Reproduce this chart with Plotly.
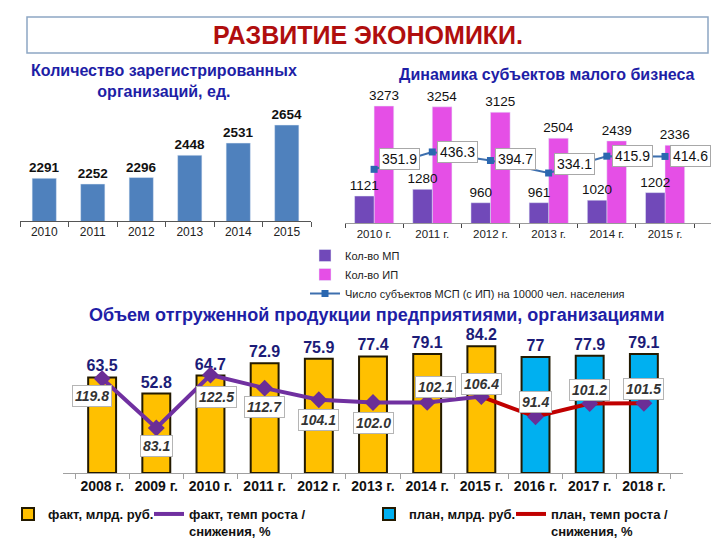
import plotly.graph_objects as go

# ---------------- data ----------------
# Left chart: registered organisations
reg_years = ["2010", "2011", "2012", "2013", "2014", "2015"]
reg_orgs = [2291, 2252, 2296, 2448, 2531, 2654]

# Right chart: small business dynamics
sb_years = ["2010 г.", "2011 г.", "2012 г.", "2013 г.", "2014 г.", "2015 г."]
mp_count = [1121, 1280, 960, 961, 1020, 1202]
ip_count = [3273, 3254, 3125, 2504, 2439, 2336]
msp_per_10000 = [351.9, 436.3, 394.7, 334.1, 415.9, 414.6]

# Bottom chart: shipped products
fact_years = ["2008 г.", "2009 г.", "2010 г.", "2011 г.", "2012 г.", "2013 г.", "2014 г.", "2015 г."]
fact_volume = [63.5, 52.8, 64.7, 72.9, 75.9, 77.4, 79.1, 84.2]
fact_growth = [119.8, 83.1, 122.5, 112.7, 104.1, 102.0, 102.1, 106.4]
plan_years = ["2016 г.", "2017 г.", "2018 г."]
plan_volume = [77, 77.9, 79.1]
plan_growth = [91.4, 101.2, 101.5]

# ---------------- style helpers ----------------
W, H = 720, 540
def fx(px):
    return px / W
def fy(py):
    return 1 - py / H

FONT = "Liberation Sans, Arial, sans-serif"
TITLE_BLUE = "#1E1EA6"

# label offsets (pixels) for boxed labels
msp_label_yshift = [10, 0, 2, 9, 0, 0]
growth_label_shift = [(-10, -17), (0, -18), (6, -22), (0, -19), (0, -20), (0, -20),
                      (8, 15), (0, 13), (0, 15), (0, 14), (0, 14)]

fig = go.Figure()

# Left chart bars
fig.add_trace(go.Bar(
    x=reg_years, y=reg_orgs, xaxis="x", yaxis="y",
    width=0.5, offset=-0.25,
    marker=dict(color="#4F81BD"),
    text=[f"<b>{v}</b>" for v in reg_orgs], textposition="outside",
    textfont=dict(size=13.5, color="#111", family=FONT), constraintext="none",
    cliponaxis=False, showlegend=False, hoverinfo="skip",
))

# Right chart bars (ИП drawn first so МП labels stay visible) + line
fig.add_trace(go.Bar(
    x=sb_years, y=ip_count, xaxis="x2", yaxis="y2", name="Кол-во ИП",
    width=0.338, offset=0,
    marker=dict(color="#E54FE6"),
    text=[str(v) for v in ip_count], textposition="outside",
    textfont=dict(size=13.5, color="#111", family=FONT), constraintext="none",
    cliponaxis=False, legend="legend", legendrank=2,
))
fig.add_trace(go.Bar(
    x=sb_years, y=mp_count, xaxis="x2", yaxis="y2", name="Кол-во МП",
    width=0.335, offset=-0.335,
    marker=dict(color="#7149B9"),
    text=[str(v) for v in mp_count], textposition="outside",
    textfont=dict(size=13.5, color="#111", family=FONT), constraintext="none",
    cliponaxis=False, legend="legend", legendrank=1,
))
fig.add_trace(go.Scatter(
    x=sb_years, y=msp_per_10000, xaxis="x2", yaxis="y3",
    name="Число субъектов МСП (с ИП) на 10000 чел. населения",
    mode="lines+markers",
    line=dict(color="#3D6FAE", width=2),
    marker=dict(symbol="square", size=7, color="#2B67B0"),
    cliponaxis=False, legend="legend", legendrank=3,
))

# Bottom chart
fig.add_trace(go.Bar(
    x=fact_years, y=fact_volume, xaxis="x3", yaxis="y4", name="факт, млрд. руб.",
    width=0.515, offset=-0.2575,
    marker=dict(color="#FFC000", line=dict(color="#231a00", width=2)),
    text=[f"<b>{v:g}</b>" for v in fact_volume], textposition="outside",
    textfont=dict(size=16, color="#1C1C78", family=FONT), constraintext="none",
    cliponaxis=False, legend="legend2", legendrank=1, legendwidth=96,
))
fig.add_trace(go.Scatter(
    x=fact_years, y=fact_growth, xaxis="x3", yaxis="y5",
    name="факт, темп роста /<br>снижения, %", mode="lines",
    line=dict(color="#7030A0", width=4),
    cliponaxis=False, legend="legend2", legendrank=2, legendwidth=175,
))
fig.add_trace(go.Bar(
    x=plan_years, y=plan_volume, xaxis="x3", yaxis="y4", name="план, млрд. руб.",
    width=0.515, offset=-0.2575,
    marker=dict(color="#00B0F0", line=dict(color="#231a00", width=2)),
    text=[f"<b>{v:g}</b>" for v in plan_volume], textposition="outside",
    textfont=dict(size=16, color="#1C1C78", family=FONT), constraintext="none",
    cliponaxis=False, legend="legend2", legendrank=3, legendwidth=97,
))
fig.add_trace(go.Scatter(
    x=[fact_years[-1]] + plan_years, y=[fact_growth[-1]] + plan_growth,
    xaxis="x3", yaxis="y5",
    name="план, темп роста /<br>снижения, %", mode="lines",
    line=dict(color="#C00000", width=4),
    cliponaxis=False, legend="legend2", legendrank=4, legendwidth=130,
))
fig.add_trace(go.Scatter(
    x=fact_years + plan_years, y=fact_growth + plan_growth,
    xaxis="x3", yaxis="y5", mode="markers",
    marker=dict(symbol="diamond", size=13, color="#6B2E96"),
    cliponaxis=False, showlegend=False, hoverinfo="skip",
))

def title_ann(xp, yp, text, size, color):
    return dict(x=fx(xp), y=fy(yp), xref="paper", yref="paper",
                xanchor="center", yanchor="middle", text=text, showarrow=False,
                font=dict(size=size, color=color, family=FONT))

annotations = [
    title_ann(360, 27, "<b>РАЗВИТИЕ ЭКОНОМИКИ.</b>", 25, "#B00E0E"),
    title_ann(156, 72.5, "<b>Количество зарегистрированных<br>организаций, ед.</b>", 16, TITLE_BLUE),
    title_ann(539, 66, "<b>Динамика субъектов малого бизнеса</b>", 16, TITLE_BLUE),
    title_ann(368, 307, "<b>Объем отгруженной продукции предприятиями, организациями</b>", 18, TITLE_BLUE),
]

for yr, v, ys in zip(sb_years, msp_per_10000, msp_label_yshift):
    annotations.append(dict(x=yr, y=v, xref="x2", yref="y3", text=f"{v}",
                            showarrow=False, xanchor="left", yanchor="middle",
                            xshift=5, yshift=ys,
                            bgcolor="white", bordercolor="#a8a8a8", borderwidth=1, borderpad=2,
                            font=dict(size=14, color="#111", family=FONT)))

for yr, v, (xs, ys) in zip(fact_years + plan_years, fact_growth + plan_growth, growth_label_shift):
    annotations.append(dict(x=yr, y=v, xref="x3", yref="y5", text=f"<b><i>{v:.1f}</i></b>",
                            showarrow=False, xanchor="center", yanchor="middle",
                            xshift=xs, yshift=ys,
                            bgcolor="white", bordercolor="#b5b5b5", borderwidth=1, borderpad=2,
                            font=dict(size=14, color="#333", family=FONT)))

shapes = [dict(type="rect", xref="paper", yref="paper",
               x0=fx(19), x1=fx(700), y0=fy(45), y1=fy(9),
               line=dict(color="#8DA7C4", width=1.5), fillcolor="rgba(0,0,0,0)")]

cat_axis = dict(type="category", showline=True, ticks="outside", tickson="boundaries",
                showgrid=False, zeroline=False, fixedrange=True)

fig.update_layout(
    width=W, height=H, autosize=False,
    margin=dict(l=0, r=0, t=0, b=0),
    paper_bgcolor="white", plot_bgcolor="white",
    font=dict(family=FONT, color="#111"),
    barmode="group", bargap=0.33, bargroupgap=0,
    xaxis=dict(**cat_axis, domain=[fx(12), fx(303)], anchor="y",
               linecolor="#555", tickcolor="#555", ticklen=5,
               tickfont=dict(size=12, color="#222")),
    yaxis=dict(domain=[fy(213), fy(100)], range=[2000, 2770], visible=False, anchor="x"),
    xaxis2=dict(**cat_axis, domain=[fx(337), fx(703)], anchor="y2",
                linecolor="#9a9a9a", tickcolor="#444", ticklen=4,
                tickfont=dict(size=11.5, color="#222")),
    yaxis2=dict(domain=[fy(215), fy(85)], range=[475, 3585], visible=False, anchor="x2"),
    yaxis3=dict(overlaying="y2", range=[91, 723], visible=False, anchor="x2"),
    xaxis3=dict(**cat_axis, domain=[fx(55), fx(675)], anchor="y4",
                categoryorder="array", categoryarray=fact_years + plan_years,
                linecolor="#a0a0a0", tickcolor="#a0a0a0", ticklen=5,
                tickfont=dict(size=14, color="#111", weight="bold")),
    yaxis4=dict(domain=[fy(465), fy(325)], range=[0, 93.0], visible=False, anchor="x3"),
    yaxis5=dict(overlaying="y4", range=[49.6, 153.7], visible=False, anchor="x3"),
    legend=dict(x=fx(297), y=fy(233), xanchor="left", yanchor="top",
                bgcolor="rgba(0,0,0,0)", font=dict(size=11, color="#222")),
    legend2=dict(orientation="h", x=0, y=fy(491), xanchor="left", yanchor="top",
                 valign="top", bgcolor="rgba(0,0,0,0)",
                 font=dict(size=13, color="#111", weight="bold")),
    annotations=annotations,
    shapes=shapes,
)

fig.write_html("out.html")
